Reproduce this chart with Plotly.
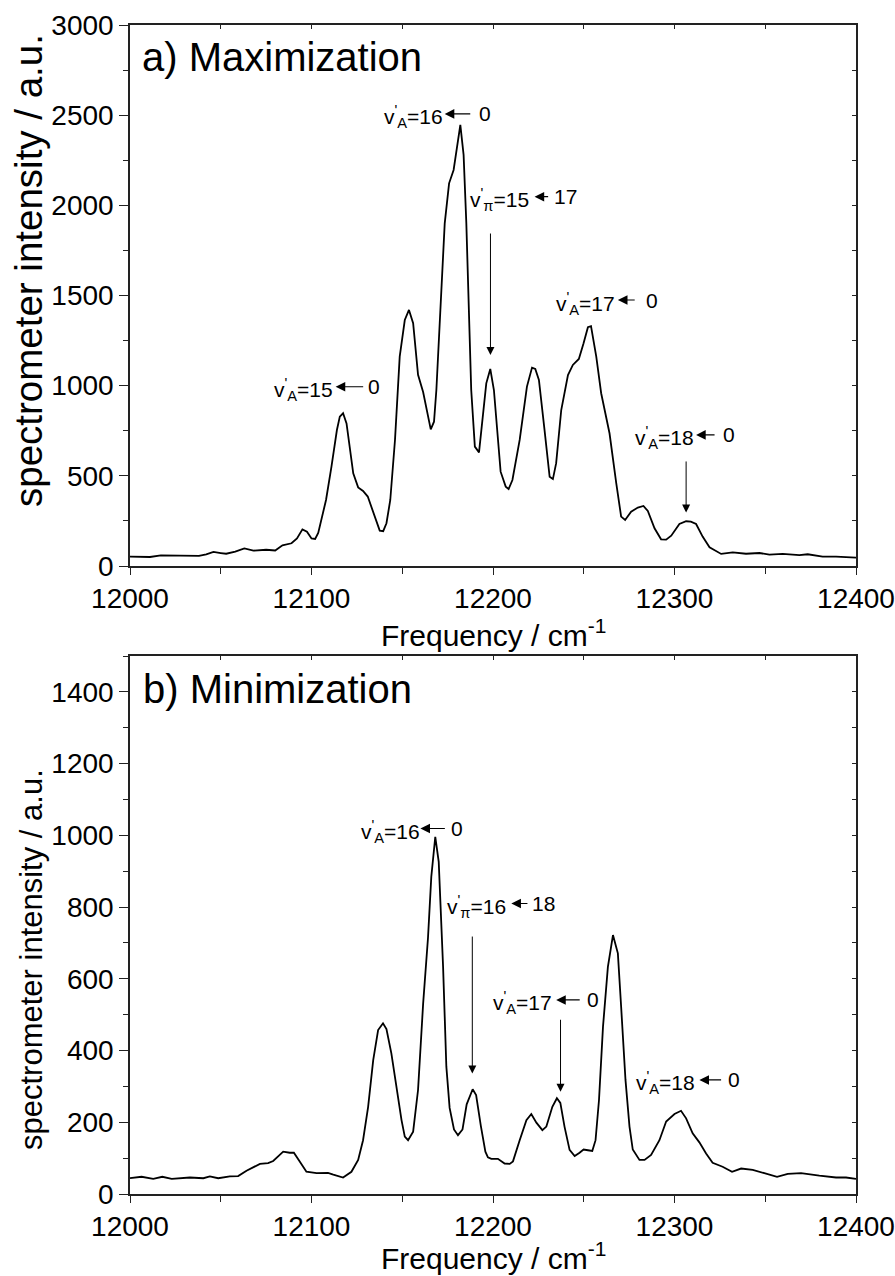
import plotly.graph_objects as go

# ---- spectrum a) maximization -------------------------------------------
freq_a = [12000, 12006, 12011, 12017, 12024, 12031, 12038, 12042, 12046, 12050,
          12053, 12058, 12063, 12068, 12075, 12080, 12084, 12089, 12092, 12095,
          12097.5, 12100, 12102, 12103.7, 12105.5, 12108, 12111, 12114, 12115.6, 12117.4,
          12119.3, 12121, 12123, 12125.7, 12128.4, 12131, 12134, 12137.6, 12139.5, 12141.3,
          12143.4, 12146, 12148.6, 12151.4, 12153.7, 12156, 12158.7, 12161.5, 12165.7, 12167.5,
          12168.8, 12171.5, 12173.4, 12175.8, 12178.3, 12182, 12183.8, 12185.3, 12186.8, 12188,
          12190, 12192.3, 12196.3, 12198.5, 12200.5, 12204.2, 12207, 12208.6, 12210.7, 12214.7,
          12218.7, 12221.5, 12223.3, 12225.3, 12228.4, 12231.2, 12233, 12234.8, 12237.6, 12241.3,
          12244, 12247.3, 12249.9, 12252.3, 12254, 12256.9, 12259.6, 12264.2, 12267.9, 12270.6,
          12272.8, 12276.1, 12279.8, 12282.9, 12285.3, 12289, 12292.6, 12295.4, 12298.2, 12302.7,
          12306.4, 12309, 12311.9, 12315.5, 12319.3, 12325.7, 12332.1, 12339.4, 12346.8, 12352.3,
          12359.6, 12368.8, 12373.4, 12381.6, 12389, 12396, 12400]
int_a = [52, 51, 50, 59, 57, 56, 56, 65, 78, 72,
         68, 80, 98, 85, 90, 86, 115, 126, 153, 203,
         190, 153, 150, 183, 255, 366, 551, 754, 828, 847,
         791, 660, 514, 436, 416, 385, 301, 196, 193, 237,
         366, 699, 1161, 1364, 1420, 1346, 1060, 965, 758, 800,
         976, 1531, 1900, 2122, 2196, 2446, 2280, 1902, 1348, 976,
         662, 630, 1013, 1093, 976, 523, 440, 427, 477, 699,
         995, 1100, 1093, 1032, 754, 495, 482, 570, 865, 1059,
         1115, 1148, 1235, 1324, 1330, 1161, 958, 736, 459, 274,
         255, 301, 324, 333, 305, 209, 148, 146, 168, 233,
         248, 246, 233, 163, 104, 67, 76, 68, 72, 63,
         67, 60, 65, 52, 52, 48, 46]

# ---- spectrum b) minimization -------------------------------------------
freq_b = [12000, 12006.4, 12012.8, 12017.8, 12023, 12033, 12040.4, 12044, 12048.6, 12055,
          12059.6, 12064.2, 12071.6, 12076.1, 12078.9, 12084.4, 12088, 12090.3, 12093.6, 12097.2,
          12102.8, 12109.1, 12112, 12117.4, 12122, 12125.7, 12128.4, 12131.2, 12134, 12136.7,
          12139.4, 12141.3, 12144, 12146.8, 12149.6, 12151.4, 12153.2, 12156, 12158.7, 12161.5,
          12164.2, 12166, 12168.2, 12170.1, 12172.5, 12174.3, 12176.1, 12178.5, 12180.7, 12183.2,
          12185.5, 12188.8, 12190.7, 12193.3, 12195.8, 12197.2, 12199.1, 12202.7, 12206.4, 12209.2,
          12211, 12214.7, 12218.4, 12221.1, 12223.9, 12227.2, 12229.4, 12232.7, 12235.2, 12237.1,
          12239.4, 12242.2, 12245, 12247.7, 12249.9, 12252.3, 12254.7, 12256.5, 12258.4, 12260.6,
          12263.3, 12266.1, 12268.8, 12270.6, 12273, 12275.2, 12277, 12280.7, 12283.5, 12287.1,
          12291.7, 12295.4, 12300, 12303.6, 12306.4, 12310, 12313.7, 12317.4, 12321, 12326.5,
          12331.7, 12336.7, 12343.1, 12349.5, 12356.5, 12362.4, 12369.7, 12379.8, 12389, 12394.5,
          12400]
int_b = [44, 48, 42, 48, 42, 46, 44, 49, 44, 49,
         50, 65, 84, 86, 92, 118, 115, 115, 90, 62,
         58, 59, 54, 46, 62, 95, 150, 243, 373, 457,
         476, 460, 392, 299, 206, 160, 150, 174, 290, 530,
         715, 884, 996, 926, 633, 355, 240, 180, 164, 180,
         250, 292, 276, 190, 118, 102, 98, 98, 85, 84,
         91, 150, 206, 223, 199, 178, 188, 243, 267, 254,
         188, 123, 106, 115, 124, 122, 120, 150, 262, 466,
         633, 722, 671, 522, 318, 188, 124, 95, 95, 109,
         150, 202, 223, 232, 211, 169, 144, 113, 87, 76,
         62, 71, 67, 58, 48, 56, 58, 51, 46, 46,
         42]

x_ticks = [12000, 12100, 12200, 12300, 12400]
x_ticktext = ["12000", "12100", "12200", "12300", "12400"]
y_ticks_a = [0, 500, 1000, 1500, 2000, 2500, 3000]
y_ticks_b = [0, 200, 400, 600, 800, 1000, 1200, 1400]

# transition labels: (upper state text, lower state, text right edge, y, arrow head, arrow tail, lower-state left edge)
labels_a = [
    ("v<sup>'</sup><sub>A</sub>=15", "0", 12111.9, 994, 12113.3, 12129.3, 12130.8),
    ("v<sup>'</sup><sub>A</sub>=16", "0", 12172.3, 2507, 12173.4, 12188.3, 12191.6),
    ("v<sup>'</sup><sub>π</sub>=15", "17", 12219.8, 2048, 12222.9, 12231.2, 12233.0),
    ("v<sup>'</sup><sub>A</sub>=17", "0", 12267.0, 1475, 12268.8, 12278.9, 12283.5),
    ("v<sup>'</sup><sub>A</sub>=18", "0", 12310.5, 727, 12311.9, 12322.9, 12326.2),
]
labels_b = [
    ("v<sup>'</sup><sub>A</sub>=16", "0", 12159.6, 1019, 12160.0, 12174.3, 12176.1),
    ("v<sup>'</sup><sub>π</sub>=16", "18", 12207.4, 810, 12210.1, 12219.8, 12221.1),
    ("v<sup>'</sup><sub>A</sub>=17", "0", 12232.6, 541, 12234.8, 12248.6, 12251.4),
    ("v<sup>'</sup><sub>A</sub>=18", "0", 12311.5, 318, 12313.7, 12326.5, 12328.8),
]
# vertical pointers: (frequency, tail intensity, head intensity)
pointers_a = [(12198.6, 1852, 1170), (12306.4, 588, 296)]
pointers_b = [(12188.6, 722, 336), (12237.2, 490, 285)]

# ---- layout geometry (pixels) -------------------------------------------
W, H = 895, 1276
PX_L, PX_R = 130, 856
TOP_A, BOT_A = 25, 566
TOP_B, BOT_B = 656, 1194
FONT = "Arial, 'Liberation Sans', sans-serif"
AX_COL = "#222222"


def fx(px):
    return px / W


def fy(py):
    return 1 - py / H


fig = go.Figure()
fig.add_trace(go.Scatter(x=freq_a, y=int_a, mode="lines", xaxis="x", yaxis="y",
                         line=dict(color="black", width=1.8), showlegend=False))
fig.add_trace(go.Scatter(x=freq_b, y=int_b, mode="lines", xaxis="x2", yaxis="y2",
                         line=dict(color="black", width=1.8), showlegend=False))
# empty traces that carry the inward-ticked top/right frame axes
for xa, ya in (("x3", "y3"), ("x4", "y4")):
    fig.add_trace(go.Scatter(x=[None], y=[None], mode="lines", xaxis=xa, yaxis=ya,
                             showlegend=False, hoverinfo="skip"))

xdom = [fx(PX_L), fx(PX_R)]
ydom_a = [fy(BOT_A), fy(TOP_A)]
ydom_b = [fy(BOT_B), fy(TOP_B)]


def xaxis(anchor):
    return dict(domain=xdom, anchor=anchor, range=[12000, 12400],
                tickmode="array", tickvals=x_ticks, ticktext=x_ticktext,
                ticks="outside", ticklen=7, tickwidth=1.3, tickcolor=AX_COL,
                minor=dict(dtick=50, tick0=12000, ticks="outside", ticklen=6,
                           tickwidth=1.3, tickcolor=AX_COL, showgrid=False),
                showline=True, linecolor=AX_COL, linewidth=1.5, mirror=True,
                showgrid=False, zeroline=False, automargin=False,
                tickfont=dict(family=FONT, size=28, color="black"))


def yaxis(anchor, dom, rng, vals, minor):
    return dict(domain=dom, anchor=anchor, range=rng,
                tickmode="array", tickvals=vals, ticktext=[str(v) for v in vals],
                ticks="outside", ticklen=9, tickwidth=1.3, tickcolor=AX_COL,
                minor=dict(dtick=minor, tick0=0, ticks="outside", ticklen=5,
                           tickwidth=1.3, tickcolor=AX_COL, showgrid=False),
                showline=True, linecolor=AX_COL, linewidth=1.5, mirror=True,
                showgrid=False, zeroline=False, automargin=False,
                tickfont=dict(family=FONT, size=28, color="black"))


def frame_x(anchor, over):
    return dict(overlaying=over, anchor=anchor, side="top", range=[12000, 12400],
                dtick=50, tick0=12000, ticks="inside", ticklen=4, tickwidth=1.2,
                tickcolor=AX_COL, showticklabels=False, showline=False,
                showgrid=False, zeroline=False, automargin=False)


def frame_y(anchor, over, rng, step):
    return dict(overlaying=over, anchor=anchor, side="right", range=rng,
                dtick=step, tick0=0, ticks="inside", ticklen=4, tickwidth=1.2,
                tickcolor=AX_COL, showticklabels=False, showline=False,
                showgrid=False, zeroline=False, automargin=False)


fig.update_layout(
    width=W, height=H,
    margin=dict(l=0, r=0, t=0, b=0, pad=0, autoexpand=False),
    paper_bgcolor="white", plot_bgcolor="white",
    xaxis=xaxis("y"),
    yaxis=yaxis("x", ydom_a, [0, 3000], y_ticks_a, 250),
    xaxis2=xaxis("y2"),
    yaxis2=yaxis("x2", ydom_b, [0, 1500], y_ticks_b, 100),
    xaxis3=frame_x("y3", "x"),
    yaxis3=frame_y("x3", "y", [0, 3000], 250),
    xaxis4=frame_x("y4", "x2"),
    yaxis4=frame_y("x4", "y2", [0, 1500], 100),
)

ann = []


def add_labels(labels, pointers, xr, yr):
    for upper, lower, x_txt, yv, x_head, x_tail, x_low in labels:
        ann.append(dict(text=upper, x=x_txt, y=yv, xref=xr, yref=yr, xanchor="right",
                        yanchor="middle", xshift=2, yshift=-3, showarrow=False,
                        font=dict(family=FONT, size=21, color="black")))
        ann.append(dict(text=lower, x=x_low, y=yv, xref=xr, yref=yr, xanchor="left",
                        yanchor="middle", xshift=-1, showarrow=False,
                        font=dict(family=FONT, size=21, color="black")))
        ann.append(dict(text="", x=x_head, y=yv, ax=x_tail, ay=yv, xref=xr, yref=yr,
                        axref=xr, ayref=yr, showarrow=True, arrowhead=2, arrowsize=1.6,
                        arrowwidth=1.2, arrowcolor="black", standoff=0, startstandoff=0))
    for xv, y_tail, y_head in pointers:
        ann.append(dict(text="", x=xv, y=y_head, ax=xv, ay=y_tail, xref=xr, yref=yr,
                        axref=xr, ayref=yr, showarrow=True, arrowhead=2, arrowsize=1.6,
                        arrowwidth=1, arrowcolor="black", standoff=0, startstandoff=0))


add_labels(labels_a, pointers_a, "x", "y")
add_labels(labels_b, pointers_b, "x2", "y2")

# panel titles
ann.append(dict(text="a) Maximization", x=fx(140), y=fy(57), xref="paper", yref="paper",
                xanchor="left", yanchor="middle", showarrow=False,
                font=dict(family=FONT, size=40, color="black")))
ann.append(dict(text="b) Minimization", x=fx(141), y=fy(689), xref="paper", yref="paper",
                xanchor="left", yanchor="middle", showarrow=False,
                font=dict(family=FONT, size=40, color="black")))

# axis titles
for yc in (633, 1256):
    ann.append(dict(text="Frequency / cm<sup>-1</sup>", x=fx(493), y=fy(yc),
                    xref="paper", yref="paper", xanchor="center", yanchor="middle",
                    showarrow=False, font=dict(family=FONT, size=30, color="black")))
ann.append(dict(text="spectrometer intensity / a.u.", x=fx(28), y=fy(271),
                xref="paper", yref="paper", xanchor="center", yanchor="middle",
                textangle=-90, showarrow=False,
                font=dict(family=FONT, size=38.5, color="black")))
ann.append(dict(text="spectrometer intensity / a.u.", x=fx(31), y=fy(960),
                xref="paper", yref="paper", xanchor="center", yanchor="middle",
                textangle=-90, showarrow=False,
                font=dict(family=FONT, size=31, color="black")))

fig.update_layout(annotations=ann)
fig.write_html("out.html")
